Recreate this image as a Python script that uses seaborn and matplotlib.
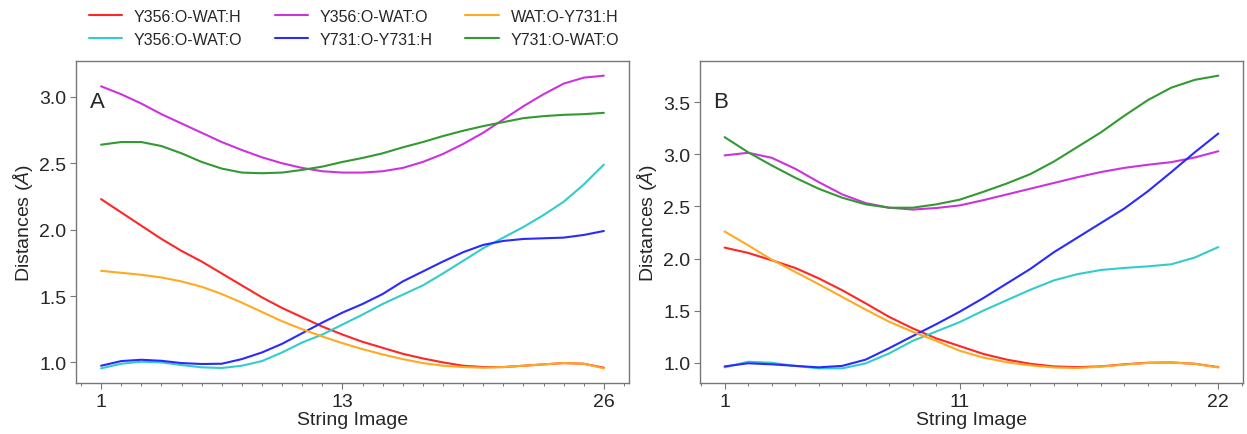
import matplotlib
matplotlib.use("Agg")
import matplotlib.pyplot as plt
import numpy as np
import pandas as pd
import seaborn as sns
from matplotlib.ticker import FixedLocator, MultipleLocator

sns.set_theme(style="ticks")
plt.rcParams["font.family"] = ["Liberation Sans", "DejaVu Sans"]
plt.rcParams["mathtext.fontset"] = "custom"
plt.rcParams["mathtext.rm"] = "Liberation Sans"
plt.rcParams["mathtext.it"] = "Liberation Sans:italic"

# series labels / colours (legend order)
labels = ["Y356:O-WAT:H", "Y356:O-WAT:O", "Y356:O-WAT:O",
          "Y731:O-Y731:H", "WAT:O-Y731:H", "Y731:O-WAT:O"]
colors = ["#ff2626", "#33cccc", "#cc33dd", "#2a2aff", "#ffaa22", "#339933"]

# panel A : string images 1..26
img_a = list(range(1, 27))
a_red = [2.23, 2.13, 2.03, 1.93, 1.84, 1.76, 1.67, 1.58, 1.49, 1.41, 1.34, 1.27, 1.21,
         1.155, 1.11, 1.065, 1.03, 1.0, 0.975, 0.965, 0.965, 0.975, 0.985, 0.995, 0.99, 0.96]
a_cyan = [0.955, 0.99, 1.005, 1.0, 0.98, 0.963, 0.958, 0.975, 1.01, 1.075, 1.15, 1.21, 1.285,
          1.36, 1.44, 1.51, 1.58, 1.67, 1.765, 1.86, 1.94, 2.02, 2.11, 2.21, 2.34, 2.49]
a_magenta = [3.08, 3.02, 2.95, 2.87, 2.80, 2.73, 2.66, 2.60, 2.545, 2.50, 2.465, 2.44, 2.43,
             2.43, 2.44, 2.465, 2.51, 2.57, 2.645, 2.73, 2.83, 2.93, 3.02, 3.10, 3.145, 3.16]
a_blue = [0.975, 1.01, 1.02, 1.012, 0.995, 0.988, 0.99, 1.025, 1.075, 1.14, 1.22, 1.30, 1.375,
          1.44, 1.515, 1.61, 1.685, 1.76, 1.83, 1.885, 1.915, 1.93, 1.935, 1.94, 1.96, 1.99]
a_orange = [1.69, 1.675, 1.66, 1.64, 1.61, 1.57, 1.515, 1.45, 1.38, 1.31, 1.25, 1.195, 1.145,
            1.10, 1.06, 1.025, 0.995, 0.975, 0.965, 0.96, 0.965, 0.975, 0.985, 0.995, 0.99, 0.955]
a_green = [2.64, 2.66, 2.66, 2.63, 2.575, 2.51, 2.46, 2.43, 2.425, 2.43, 2.45, 2.475, 2.51,
           2.54, 2.575, 2.62, 2.66, 2.705, 2.745, 2.78, 2.81, 2.84, 2.855, 2.865, 2.87, 2.88]

# panel B : string images 1..22
img_b = list(range(1, 23))
b_red = [2.105, 2.054, 1.984, 1.91, 1.81, 1.696, 1.57, 1.44, 1.33, 1.234, 1.16,
         1.085, 1.03, 0.99, 0.965, 0.958, 0.965, 0.985, 1.0, 1.003, 0.99, 0.958]
b_cyan = [0.956, 1.01, 1.0, 0.97, 0.946, 0.946, 0.994, 1.09, 1.21, 1.30, 1.39,
          1.50, 1.60, 1.70, 1.79, 1.85, 1.89, 1.91, 1.925, 1.945, 2.01, 2.11]
b_magenta = [2.99, 3.015, 2.967, 2.862, 2.734, 2.616, 2.532, 2.488, 2.47, 2.485, 2.51,
             2.56, 2.615, 2.67, 2.725, 2.78, 2.83, 2.87, 2.90, 2.925, 2.97, 3.03]
b_blue = [0.965, 0.995, 0.985, 0.97, 0.956, 0.97, 1.03, 1.14, 1.256, 1.37, 1.49,
          1.62, 1.76, 1.90, 2.06, 2.20, 2.34, 2.48, 2.645, 2.83, 3.02, 3.20]
b_orange = [2.26, 2.127, 1.99, 1.872, 1.754, 1.632, 1.51, 1.393, 1.297, 1.21, 1.115,
            1.05, 1.005, 0.975, 0.955, 0.95, 0.962, 0.982, 0.998, 1.002, 0.99, 0.955]
b_green = [3.165, 3.02, 2.894, 2.776, 2.67, 2.584, 2.52, 2.488, 2.488, 2.52, 2.565,
           2.64, 2.72, 2.81, 2.93, 3.07, 3.21, 3.37, 3.52, 3.64, 3.715, 3.755]

panels = [
    ("A", img_a, [a_red, a_cyan, a_magenta, a_blue, a_orange, a_green], [1, 13, 26]),
    ("B", img_b, [b_red, b_cyan, b_magenta, b_blue, b_orange, b_green], [1, 11, 22]),
]

fig = plt.figure(figsize=(12.47, 4.35), dpi=100)
ax_a = fig.add_axes([0.0609, 0.1172, 0.4435, 0.7402])
ax_b = fig.add_axes([0.5613, 0.1172, 0.4355, 0.7402])

for ax, (tag, xs, series, xticks) in zip([ax_a, ax_b], panels):
    for ys, col, lab in zip(series, colors, labels):
        df = pd.DataFrame({"img": xs, "dist": ys})
        sns.lineplot(data=df, x="img", y="dist", color=col, lw=1.5, label=lab, ax=ax, legend=False)
    ax.xaxis.set_major_locator(FixedLocator(xticks))
    ax.xaxis.set_minor_locator(MultipleLocator(1))
    ax.yaxis.set_major_locator(MultipleLocator(0.5))
    ax.yaxis.set_major_formatter(matplotlib.ticker.FormatStrFormatter("%.1f"))
    ax.set_xlabel("String Image", fontsize=14, labelpad=1)
    ax.set_ylabel(r"Distances ($\it{\AA}$)", fontsize=14, labelpad=3)
    ax.tick_params(axis="both", which="major", labelsize=14, length=4, width=0.8,
                   color="#777777", pad=3)
    ax.tick_params(axis="x", which="minor", length=2.5, width=0.7, color="#777777")
    for sp in ax.spines.values():
        sp.set_color("#777777")
        sp.set_linewidth(1.0)
    ax.text(0.025, 0.875, tag, transform=ax.transAxes, fontsize=16, va="center", ha="left")

handles, labs = ax_a.get_legend_handles_labels()
fig.legend(handles, labs, loc="upper left", bbox_to_anchor=(0.071, 0.978), ncol=3,
           frameon=False, fontsize=11.5, handlelength=2.1, handletextpad=0.75,
           columnspacing=2.0, labelspacing=0.5, borderpad=0, borderaxespad=0)

fig.savefig("out.png", dpi=100)
